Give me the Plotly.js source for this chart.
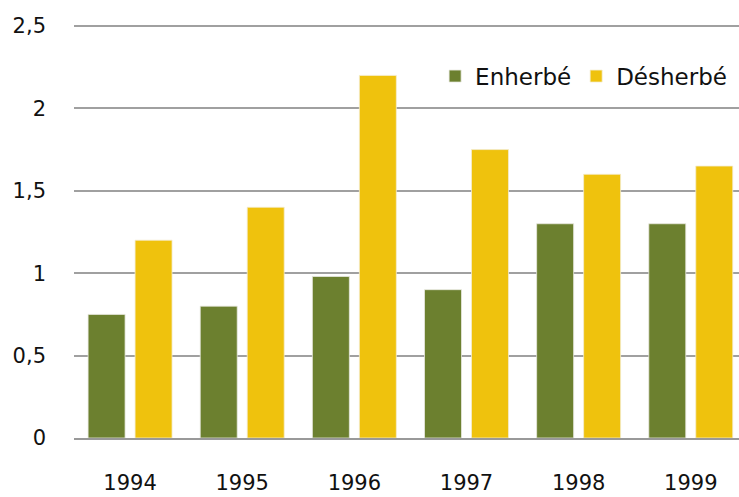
<!DOCTYPE html>
<html><head><meta charset="utf-8">
<script src="https://cdn.plot.ly/plotly-3.0.1.min.js"></script>
<style>body{margin:0}#c{width:739px;height:497px}</style>
</head><body><div id="c"></div>
<script>
const years = ["1994","1995","1996","1997","1998","1999"];
const enherbe = [0.75, 0.8, 0.98, 0.9, 1.3, 1.3];
const desherbe = [1.2, 1.4, 2.2, 1.75, 1.6, 1.65];
const FONT = "DejaVu Sans";
const data = [
  {type:"bar", name:"Enherbé", x:years, y:enherbe, marker:{color:"#6c802f", line:{color:"#e8e8e0", width:0.8}}},
  {type:"bar", name:"Désherbé", x:years, y:desherbe, marker:{color:"#efc20d", line:{color:"#f4ecd0", width:0.8}}}
];
const layout = {
  width:739, height:497,
  margin:{l:74, r:0, t:23, b:59, autoexpand:false},
  separators:", ",
  paper_bgcolor:"#fff", plot_bgcolor:"#fff",
  font:{family:FONT, size:21, color:"#111"},
  barmode:"group", bargap:0.162, bargroupgap:0.213,
  showlegend:true,
  legend:{orientation:"h", x:0.543, xanchor:"left", y:0.872, yanchor:"middle",
    font:{family:FONT, size:23, color:"#111"}, bgcolor:"rgba(0,0,0,0)", itemwidth:30, traceorder:"normal"},
  xaxis:{type:"category", autorange:false, range:[-0.5, 5.43], showgrid:false, ticks:"", ticklabelstandoff:25,
    showline:true, linecolor:"#999", linewidth:2, tickfont:{size:21}, automargin:false},
  yaxis:{autorange:false, range:[0,2.518], dtick:0.5, tick0:0, showgrid:true, gridcolor:"#a0a0a0", gridwidth:1.6,
    zeroline:false, showline:false, ticks:"", ticklabelstandoff:27, tickfont:{size:21}, automargin:false}
};
Plotly.newPlot("c", data, layout, {displayModeBar:false});
</script></body></html>
